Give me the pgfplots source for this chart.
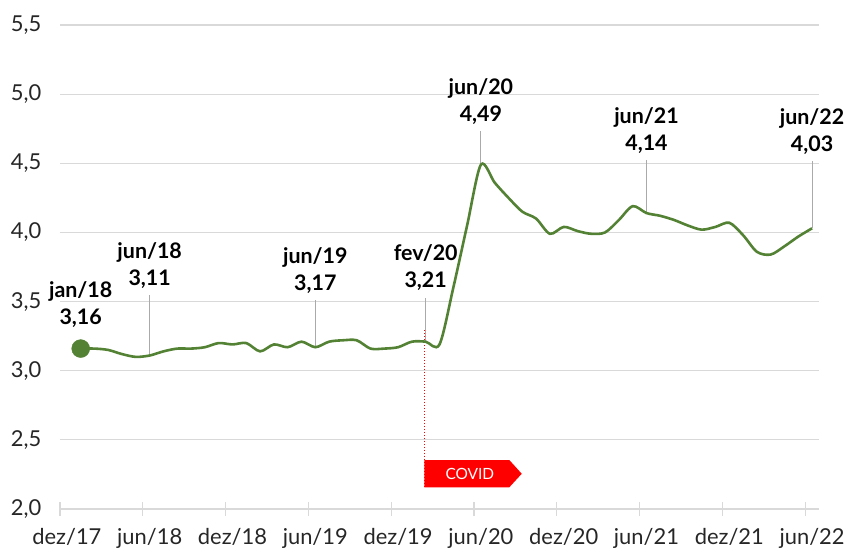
\documentclass[border=0pt]{standalone}
\usepackage{fontspec}
\setmainfont{Lato}
\usepackage{pgfplots}
\pgfplotsset{compat=1.18}
\definecolor{linegreen}{RGB}{84,130,53}
\definecolor{gridgray}{RGB}{217,217,217}
\definecolor{annogray}{RGB}{170,170,170}
\definecolor{covidred}{RGB}{255,0,0}

\begin{document}
\fontsize{20}{24}\selectfont
\begin{tikzpicture}
\begin{axis}[
    scale only axis,
    width=759bp, height=484bp,
    xmin=0, xmax=55,
    ymin=2, ymax=5.5,
    clip=false,
    axis x line*=bottom,
    axis y line*=left,
    x axis line style={gridgray, line width=1.2bp, -},
    y axis line style={draw=none},
    xtick={0,6,...,54},
    xticklabels={dez/17,jun/18,dez/18,jun/19,dez/19,jun/20,dez/20,jun/21,dez/21,jun/22},
    xtick style={gridgray, line width=1.2bp},
    major tick length=13bp,
    tick align=center,
    ytick={2,2.5,...,5.5},
    ytick style={draw=none},
    ymajorgrids,
    major grid style={gridgray, line width=1.2bp},
    tick label style={font=\fontsize{22}{26}\selectfont, text=black!85},
    xticklabel style={anchor=base, inner sep=0pt, yshift=-29bp, xshift=6.9bp},
    yticklabel style={anchor=east, inner sep=0pt, xshift=-12bp,
        /pgf/number format/.cd, use comma, fixed, fixed zerofill, precision=1,
        assume math mode=true},
]

% annotation lines
\draw[annogray, line width=1bp] (axis cs:6.5,3.11) -- (axis cs:6.5,3.547);
\draw[annogray, line width=1bp] (axis cs:18.5,3.17) -- (axis cs:18.5,3.511);
\draw[annogray, line width=1bp] (axis cs:26.5,3.21) -- (axis cs:26.5,3.526);
\draw[annogray, line width=1bp] (axis cs:30.5,4.49) -- (axis cs:30.5,4.733);
\draw[annogray, line width=1bp] (axis cs:42.5,4.14) -- (axis cs:42.5,4.523);
\draw[annogray, line width=1bp] (axis cs:54.5,4.03) -- (axis cs:54.5,4.516);

% covid marker
\draw[covidred, dotted, line width=1bp] (axis cs:26.4,3.294) -- (axis cs:26.4,2.157);
\fill[covidred] (axis cs:26.4,2.157) -- (axis cs:32.56,2.157) -- (axis cs:33.46,2.255)
    -- (axis cs:32.56,2.354) -- (axis cs:26.4,2.354) -- cycle;
\node[white, inner sep=0pt, font=\fontsize{15.5}{18}\selectfont] at (axis cs:29.7,2.255) {COVID};

\addplot[linegreen, line width=2.6bp, smooth, tension=0.5] coordinates {
    (1.5,3.16) (2.5,3.16) (3.5,3.15) (4.5,3.12) (5.5,3.10) (6.5,3.11)
    (7.5,3.14) (8.5,3.16) (9.5,3.16) (10.5,3.17) (11.5,3.20) (12.5,3.19)
    (13.5,3.20) (14.5,3.14) (15.5,3.19) (16.5,3.17) (17.5,3.21) (18.5,3.17)
    (19.5,3.21) (20.5,3.22) (21.5,3.22) (22.5,3.16) (23.5,3.16) (24.5,3.17)
    (25.5,3.21) (26.5,3.21) (27.5,3.19) (28.5,3.60) (29.5,4.05) (30.5,4.49)
    (31.5,4.36) (32.5,4.25) (33.5,4.15) (34.5,4.10) (35.5,3.99) (36.5,4.04)
    (37.5,4.01) (38.5,3.99) (39.5,4.00) (40.5,4.09) (41.5,4.19) (42.5,4.14)
    (43.5,4.12) (44.5,4.09) (45.5,4.05) (46.5,4.02) (47.5,4.04) (48.5,4.07)
    (49.5,3.98) (50.5,3.86) (51.5,3.84) (52.5,3.90) (53.5,3.97) (54.5,4.03)
};
\addplot[only marks, mark=*, mark size=9bp, linegreen] coordinates {(1.5,3.16)};

% labels
\node[anchor=base, inner sep=0pt, font=\fontsize{21.5}{24}\selectfont\bfseries] at ([yshift=10bp]axis cs:1.5,3.265) {3,16};
\node[anchor=base, inner sep=0pt, font=\fontsize{21.5}{24}\selectfont\bfseries] at ([yshift=37bp]axis cs:1.5,3.265) {jan/18};
\node[anchor=base, inner sep=0pt, font=\fontsize{21.5}{24}\selectfont\bfseries] at ([yshift=10bp]axis cs:6.5,3.547) {3,11};
\node[anchor=base, inner sep=0pt, font=\fontsize{21.5}{24}\selectfont\bfseries] at ([yshift=37bp]axis cs:6.5,3.547) {jun/18};
\node[anchor=base, inner sep=0pt, font=\fontsize{21.5}{24}\selectfont\bfseries] at ([yshift=10bp]axis cs:18.5,3.511) {3,17};
\node[anchor=base, inner sep=0pt, font=\fontsize{21.5}{24}\selectfont\bfseries] at ([yshift=37bp]axis cs:18.5,3.511) {jun/19};
\node[anchor=base, inner sep=0pt, font=\fontsize{21.5}{24}\selectfont\bfseries] at ([yshift=10bp]axis cs:26.5,3.526) {3,21};
\node[anchor=base, inner sep=0pt, font=\fontsize{21.5}{24}\selectfont\bfseries] at ([yshift=37bp]axis cs:26.5,3.526) {fev/20};
\node[anchor=base, inner sep=0pt, font=\fontsize{21.5}{24}\selectfont\bfseries] at ([yshift=10bp]axis cs:30.5,4.733) {4,49};
\node[anchor=base, inner sep=0pt, font=\fontsize{21.5}{24}\selectfont\bfseries] at ([yshift=37bp]axis cs:30.5,4.733) {jun/20};
\node[anchor=base, inner sep=0pt, font=\fontsize{21.5}{24}\selectfont\bfseries] at ([yshift=10bp]axis cs:42.5,4.523) {4,14};
\node[anchor=base, inner sep=0pt, font=\fontsize{21.5}{24}\selectfont\bfseries] at ([yshift=37bp]axis cs:42.5,4.523) {jun/21};
\node[anchor=base, inner sep=0pt, font=\fontsize{21.5}{24}\selectfont\bfseries] at ([yshift=10bp]axis cs:54.5,4.516) {4,03};
\node[anchor=base, inner sep=0pt, font=\fontsize{21.5}{24}\selectfont\bfseries] at ([yshift=37bp]axis cs:54.5,4.516) {jun/22};
\end{axis}
\pgfresetboundingbox
\path[use as bounding box] (-60bp,-39bp) rectangle (785bp,509bp);
\end{tikzpicture}
\end{document}
